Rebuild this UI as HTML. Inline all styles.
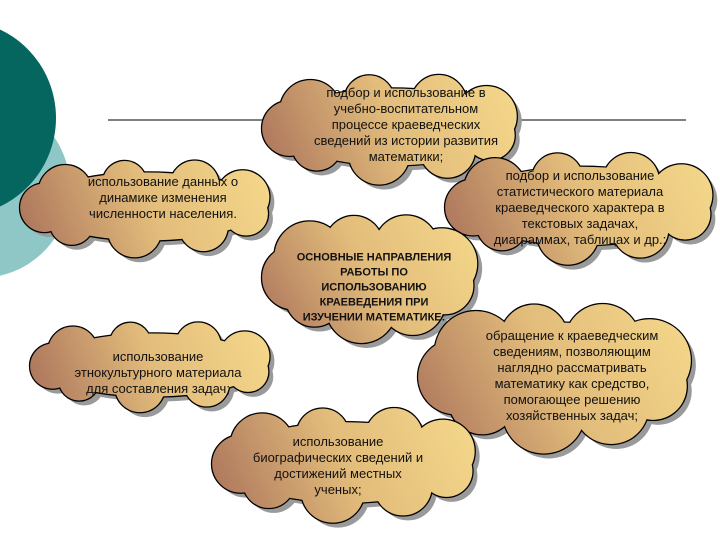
<!DOCTYPE html>
<html><head><meta charset="utf-8"><style>
body{margin:0;width:720px;height:540px;overflow:hidden;background:#fff;position:relative;font-family:"Liberation Sans","DejaVu Sans",sans-serif}
svg{position:absolute;left:0;top:0}
.t{position:absolute;text-align:center;font-size:13px;line-height:16px;color:#111;transform:translate(-50%,-50%);white-space:nowrap}
.b{font-weight:bold;font-size:11px;line-height:15px}
</style></head><body>
<svg id="s" width="720" height="540" xmlns="http://www.w3.org/2000/svg">
<circle cx="-20" cy="188" r="90" fill="#8fc7c7"/>
<circle cx="-42" cy="118" r="98" fill="#05665f"/>
<line x1="108" y1="120" x2="686" y2="120" stroke="#000" stroke-width="1"/>
</svg>
<div class="t" style="left:406px;top:125px">подбор и использование в<br>учебно-воспитательном<br>процессе краеведческих<br>сведений из истории развития<br>математики;</div>
<div class="t" style="left:163px;top:198px">использование данных о<br>динамике изменения<br>численности населения.</div>
<div class="t" style="left:580px;top:208px">подбор и использование<br>статистического материала<br>краеведческого характера в<br>текстовых задачах,<br>диаграммах, таблицах и др.;</div>
<div class="t b" style="left:374px;top:288px">ОСНОВНЫЕ НАПРАВЛЕНИЯ<br>РАБОТЫ ПО<br>ИСПОЛЬЗОВАНИЮ<br>КРАЕВЕДЕНИЯ ПРИ<br>ИЗУЧЕНИИ МАТЕМАТИКЕ:</div>
<div class="t" style="left:572px;top:376px">обращение к краеведческим<br>сведениям, позволяющим<br>наглядно рассматривать<br>математику как средство,<br>помогающее решению<br>хозяйственных задач;</div>
<div class="t" style="left:158px;top:373px">использование<br>этнокультурного материала<br>для составления задач;</div>
<div class="t" style="left:338px;top:466px">использование<br>биографических сведений и<br>достижений местных<br>ученых;</div>
<script>
var s=document.getElementById('s'),NS='http://www.w3.org/2000/svg';
var clouds=[[262,72,522,182],[20,158,275,255],[445,150,718,262],[262,212,480,340],[418,300,695,450],[30,320,275,410],[212,405,480,520]];
function el(t,a,p){var e=document.createElementNS(NS,t);for(var k in a)e.setAttribute(k,a[k]);(p||s).appendChild(e);return e;}
var defs=el('defs',{});
clouds.forEach(function(c,i){
 var g=el('linearGradient',{id:'g'+i,gradientUnits:'userSpaceOnUse',x1:c[0],y1:c[3],x2:c[2],y2:c[1]},defs);
 el('stop',{offset:'0','stop-color':'#a8705a'},g);el('stop',{offset:'0.5','stop-color':'#e2bc7b'},g);el('stop',{offset:'1','stop-color':'#f6da8b'},g);
 var cx=(c[0]+c[2])/2,cy=(c[1]+c[3])/2,rx=(c[2]-c[0])/2,ry=(c[3]-c[1])/2,r=ry*0.5,n=9,sh=[];
 for(var j=0;j<n;j++){var a=j*2*Math.PI/n+0.3;sh.push([cx+(rx-r)*Math.cos(a),cy+(ry-r)*Math.sin(a),r*(0.9+0.2*((j*7)%3)/2)]);}
 var gs=el('g',{transform:'translate(5,5)',fill:'#9a9a9a'});
 var l1=el('g',{fill:'#000',stroke:'#000','stroke-width':'2.5'});
 var l2=el('g',{fill:'url(#g'+i+')'});
 [gs,l1,l2].forEach(function(G){
  sh.forEach(function(p){el('circle',{cx:p[0],cy:p[1],r:p[2]},G);});
  el('ellipse',{cx:cx,cy:cy,rx:rx-r*0.6,ry:ry-r*0.6},G);
 });
});
</script>
</body></html>
